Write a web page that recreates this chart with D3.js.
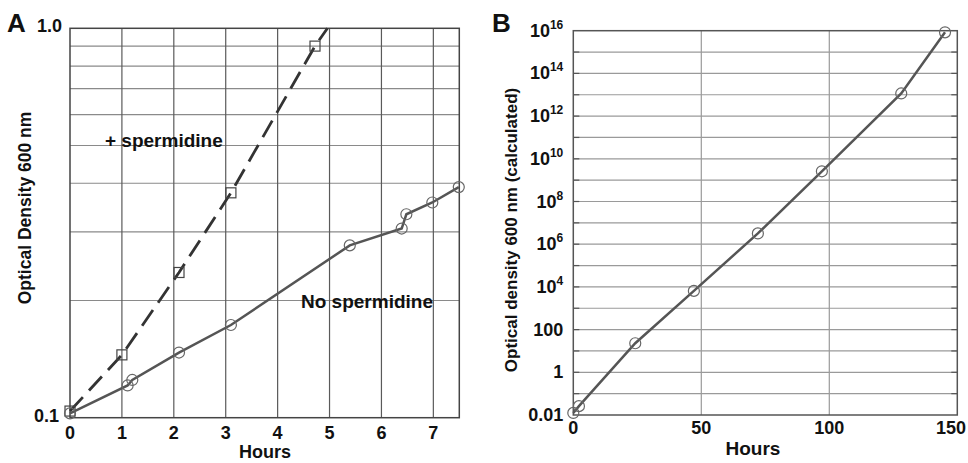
<!DOCTYPE html>
<html><head><meta charset="utf-8">
<script src="https://cdn.jsdelivr.net/npm/d3@7"></script>
<style>
body{margin:0;background:#fff;}
text{font-family:"Liberation Sans",Arial,Helvetica,sans-serif;font-weight:bold;fill:#111;}
</style></head><body>
<svg id="c" width="968" height="463"></svg>
<script>
// Panel A data
const spermHours = [0, 1.0, 2.1, 3.1, 4.72];
const spermOD    = [0.104, 0.145, 0.236, 0.378, 0.90];
const spermLineHours = [0, 1.0, 2.1, 3.1, 4.72, 4.96];
const spermLineOD    = [0.104, 0.145, 0.236, 0.378, 0.90, 1.0];
const noSpermHours = [0, 1.11, 1.2, 2.1, 3.1, 5.39, 6.39, 6.48, 6.98, 7.49];
const noSpermOD    = [0.1026, 0.121, 0.125, 0.147, 0.173, 0.277, 0.306, 0.333, 0.357, 0.391];
const xTicksA = [0,1,2,3,4,5,6,7];
const yGridA = [0.2,0.3,0.4,0.5,0.6,0.7,0.8,0.9];
const yTicksA = [0.1, 1.0];
// Panel B data
const calcHours = [0, 2.2, 24.2, 47.1, 72.1, 97.1, 128.1, 145.2];
const calcOD    = [0.0125, 0.026, 23, 6500, 3.2e6, 2.6e9, 1.15e13, 8.4e15];
const xTicksB = [0,50,100,150];
const yTicksB = [1e-2, 1, 1e2, 1e4, 1e6, 1e8, 1e10, 1e12, 1e14, 1e16];
const yTickLabelsB = ["0.01","1","100","10|4","10|6","10|8","10|10","10|12","10|14","10|16"];

const svg = d3.select("#c");

// ---------- Panel A ----------
const A = {l:70, r:459.3, t:28.3, b:417.7};
const xA = d3.scaleLinear().domain([0,7.5]).range([A.l, A.r]);
const yA = d3.scaleLog().domain([0.1,1.0]).range([A.b, A.t]);
const gA = svg.append("g");
gA.selectAll(".hg").data(yGridA).enter().append("line")
  .attr("x1",A.l).attr("x2",A.r).attr("y1",d=>yA(d)).attr("y2",d=>yA(d))
  .attr("stroke","#8a8a8a").attr("stroke-width",1.2);
gA.selectAll(".vg").data(xTicksA.filter(d=>d>0)).enter().append("line")
  .attr("y1",A.t).attr("y2",A.b).attr("x1",d=>xA(d)).attr("x2",d=>xA(d))
  .attr("stroke","#5a5a5a").attr("stroke-width",1.2);
gA.append("rect").attr("x",A.l).attr("y",A.t).attr("width",A.r-A.l).attr("height",A.b-A.t)
  .attr("fill","none").attr("stroke","#444").attr("stroke-width",1.5);

gA.selectAll(".xt").data(xTicksA).enter().append("text")
  .attr("x",d=>xA(d)).attr("y",A.b+21).attr("text-anchor","middle")
  .style("font-size","18px").text(d=>d);
gA.selectAll(".yt").data(yTicksA).enter().append("text")
  .attr("x",d=>d<0.5?A.l-11:A.l-8).attr("y",d=>yA(d)+4).attr("text-anchor","end")
  .style("font-size","18px").text(d=>d.toFixed(1));
gA.append("text").attr("x",265).attr("y",458).attr("text-anchor","middle")
  .style("font-size","18px").text("Hours");
gA.append("text").attr("transform","translate(31,208) rotate(-90)").attr("text-anchor","middle")
  .style("font-size","17.5px").text("Optical Density 600 nm");
gA.append("text").attr("x",7).attr("y",32).style("font-size","26px").text("A");

const lineA = d3.line().x(d=>xA(d[0])).y(d=>yA(d[1]));
gA.append("path").datum(spermLineHours.map((h,i)=>[h,spermLineOD[i]]))
  .attr("d",lineA).attr("fill","none").attr("stroke","#333").attr("stroke-width",2.8)
  .attr("stroke-dasharray","19,9");
gA.append("path").datum(noSpermHours.map((h,i)=>[h,noSpermOD[i]]))
  .attr("d",lineA).attr("fill","none").attr("stroke","#555").attr("stroke-width",2.5);
gA.selectAll(".sq").data(spermHours.map((h,i)=>[h,spermOD[i]])).enter().append("rect")
  .attr("x",d=>xA(d[0])-5).attr("y",d=>yA(d[1])-5).attr("width",10).attr("height",10)
  .attr("fill","none").attr("stroke","#444").attr("stroke-width",1.2);
gA.selectAll(".ci").data(noSpermHours.map((h,i)=>[h,noSpermOD[i]])).enter().append("circle")
  .attr("cx",d=>xA(d[0])).attr("cy",d=>yA(d[1])).attr("r",5.5)
  .attr("fill","none").attr("stroke","#666").attr("stroke-width",1.2);
gA.append("text").attr("x",105).attr("y",147).style("font-size","19px").text("+ spermidine");
gA.append("text").attr("x",301).attr("y",308).style("font-size","19px").text("No spermidine");

// ---------- Panel B ----------
const B = {l:573.3, r:957.3, t:30.7, b:415};
const xB = d3.scaleLinear().domain([0,150]).range([B.l, B.r]);
const yB = d3.scaleLog().domain([1e-2,1e16]).range([B.b, B.t]);
const gB = svg.append("g");
const decades = d3.range(-1,16).map(e=>Math.pow(10,e));
gB.selectAll(".hg").data(decades).enter().append("line")
  .attr("x1",B.l).attr("x2",B.r).attr("y1",d=>yB(d)).attr("y2",d=>yB(d))
  .attr("stroke","#9a9a9a").attr("stroke-width",1.2);
gB.selectAll(".tl").data(decades).enter().append("line")
  .attr("x1",B.l).attr("x2",B.l+6).attr("y1",d=>yB(d)).attr("y2",d=>yB(d))
  .attr("stroke","#555").attr("stroke-width",1.2);
gB.selectAll(".tr").data(decades).enter().append("line")
  .attr("x1",B.r-6).attr("x2",B.r).attr("y1",d=>yB(d)).attr("y2",d=>yB(d))
  .attr("stroke","#555").attr("stroke-width",1.2);
gB.selectAll(".vg").data(xTicksB.filter(d=>d>0&&d<150)).enter().append("line")
  .attr("y1",B.t).attr("y2",B.b).attr("x1",d=>xB(d)).attr("x2",d=>xB(d))
  .attr("stroke","#9a9a9a").attr("stroke-width",1.2);
gB.append("rect").attr("x",B.l).attr("y",B.t).attr("width",B.r-B.l).attr("height",B.b-B.t)
  .attr("fill","none").attr("stroke","#555").attr("stroke-width",1.5);

gB.selectAll(".xt").data(xTicksB).enter().append("text")
  .attr("x",d=>d===150?966:xB(d)).attr("y",B.b+19)
  .attr("text-anchor",d=>d===150?"end":"middle")
  .style("font-size","18px").text(d=>d);
const yt = gB.selectAll(".yt").data(yTicksB).enter().append("text")
  .attr("x",B.l-10).attr("y",d=>yB(d)+6).attr("text-anchor","end")
  .style("font-size","18px");
yt.each(function(d,i){
  const s = yTickLabelsB[i].split("|");
  const t = d3.select(this);
  t.append("tspan").text(s[0]);
  if (s.length>1) t.append("tspan").attr("dy",-8).style("font-size","12px").text(s[1]);
});
gB.append("text").attr("x",753).attr("y",455).attr("text-anchor","middle")
  .style("font-size","19px").text("Hours");
gB.append("text").attr("transform","translate(517,230) rotate(-90)").attr("text-anchor","middle")
  .style("font-size","17px").text("Optical density 600 nm (calculated)");
gB.append("text").attr("x",492).attr("y",32).style("font-size","26px").text("B");

const lineB = d3.line().x(d=>xB(d[0])).y(d=>yB(d[1]));
gB.append("path").datum(calcHours.map((h,i)=>[h,calcOD[i]]))
  .attr("d",lineB).attr("fill","none").attr("stroke","#555").attr("stroke-width",2.5);
gB.selectAll(".ci").data(calcHours.map((h,i)=>[h,calcOD[i]])).enter().append("circle")
  .attr("cx",d=>xB(d[0])).attr("cy",d=>yB(d[1])).attr("r",5.5)
  .attr("fill","none").attr("stroke","#666").attr("stroke-width",1.2);
</script></body></html>
